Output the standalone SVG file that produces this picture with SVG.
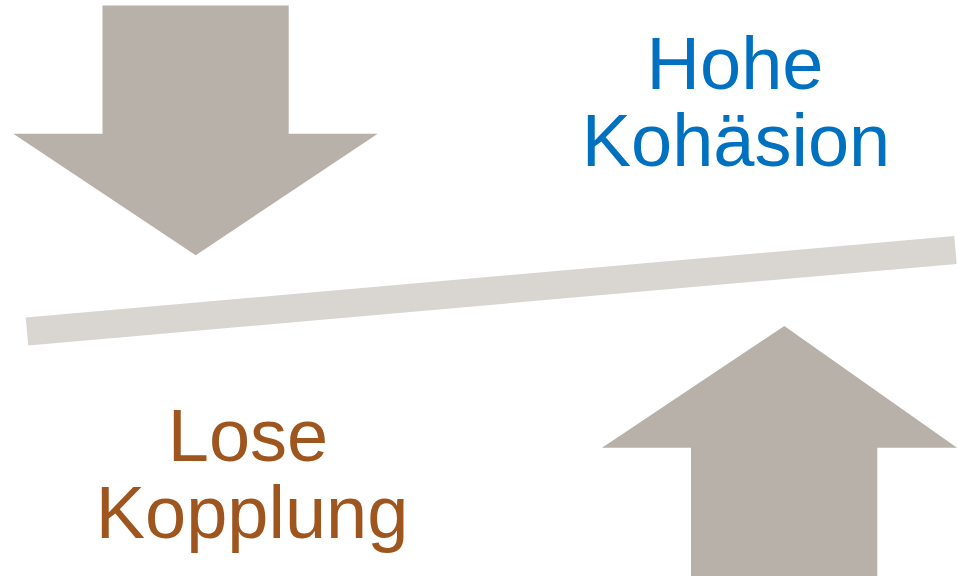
<svg xmlns="http://www.w3.org/2000/svg" width="957" height="578" viewBox="0 0 957 578">
<style>
.arrow{fill:#B8B1AA}
.bar{stroke:#D9D5D1;stroke-width:28;stroke-linecap:butt;fill:none}
.t{font-family:"Liberation Sans",Arial,sans-serif;font-size:74px;text-anchor:middle}
.blue{fill:#0070C0}
.brown{fill:#9E561E}
</style>
<rect width="957" height="578" fill="#FFFFFF"/>
<g id="arrow-down">
<polygon class="arrow" points="102.5,5.5 288.7,5.5 288.7,133.7 377.7,133.7 195.7,255.3 13.3,133.7 102.5,133.7"/>
</g>
<g id="arrow-up">
<polygon class="arrow" points="784.3,326 957,447.7 877.3,447.7 877.3,576 691,576 691,447.7 602,447.7"/>
</g>
<g id="connectors">
<line class="bar" x1="27" y1="331.5" x2="955.5" y2="250"/>
</g>
<g id="label-cohesion">
<text class="t blue" x="735" y="89">Hohe</text>
<text class="t blue" x="736" y="166">Kohäsion</text>
</g>
<g id="label-coupling">
<text class="t brown" x="248" y="461">Lose</text>
<text class="t brown" x="252" y="538">Kopplung</text>
</g>
</svg>
